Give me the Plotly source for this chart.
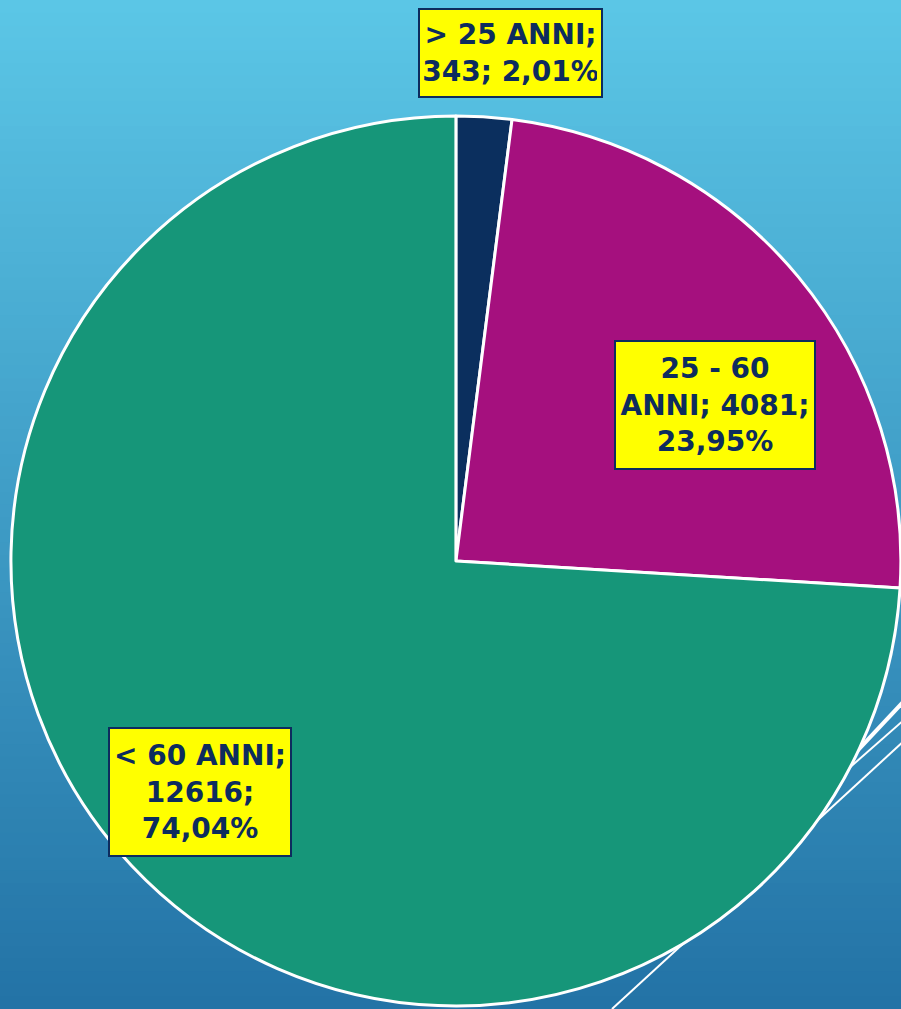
import textwrap
import plotly.graph_objects as go

labels = ["> 25 ANNI", "25 - 60 ANNI", "< 60 ANNI"]
values = [343, 4081, 12616]
colors = ["#0B2F5E", "#A5107E", "#169679"]
label_pos = [(0.567, 0.947), (0.794, 0.599), (0.222, 0.215)]
label_box = [(173, 78), (190, 118), (172, 118)]

total = sum(values)


def pct_text(v):
    return f"{v / total * 100:.2f}".replace(".", ",") + "%"


fig = go.Figure(go.Pie(
    labels=labels,
    values=values,
    sort=False,
    direction="clockwise",
    rotation=0,
    marker=dict(colors=colors, line=dict(color="white", width=3)),
    textinfo="none",
    hoverinfo="label+value+percent",
    showlegend=False,
    domain=dict(x=[0.012, 1.0], y=[0.003, 0.885]),
))

# background gradient, light blue at top to darker blue at bottom
top = (91, 198, 230)
bottom = (35, 115, 166)
bands = 80
shapes = []
for i in range(bands):
    t = i / (bands - 1)
    c = tuple(round(top[k] + (bottom[k] - top[k]) * t) for k in range(3))
    shapes.append(dict(
        type="rect", xref="paper", yref="paper", layer="below",
        x0=0, x1=1, y1=1 - i / bands, y0=1 - (i + 1) / bands - 0.001,
        fillcolor=f"rgb{c}", line=dict(width=0),
    ))

# decorative white lines at the lower right
W, H = 901, 1009
for (x0, y0, x1, y1, w) in [(612, 1009, 905, 740, 2), (790, 820, 905, 719, 2),
                            (830, 780, 905, 700, 4)]:
    shapes.append(dict(
        type="line", xref="paper", yref="paper", layer="below",
        x0=x0 / W, y0=1 - y0 / H, x1=x1 / W, y1=1 - y1 / H,
        line=dict(color="white", width=w),
    ))

annotations = []
for lab, val, (ax, ay), (bw, bh) in zip(labels, values, label_pos, label_box):
    txt = f"{lab}; {val}; {pct_text(val)}"
    annotations.append(dict(
        x=ax, y=ay, xref="paper", yref="paper",
        xanchor="center", yanchor="middle",
        width=bw, height=bh,
        text="<br>".join(textwrap.wrap(txt, width=11)),
        showarrow=False,
        font=dict(family="DejaVu Sans", size=28, color="#0D2C5E", weight="bold"),
        bgcolor="#FFFF00",
        bordercolor="#0D2C5E",
        borderwidth=2,
        borderpad=4,
    ))

fig.update_layout(
    width=901,
    height=1009,
    margin=dict(l=0, r=0, t=0, b=0),
    paper_bgcolor="#3FA0CC",
    shapes=shapes,
    annotations=annotations,
)

fig.write_html("out.html", config={"displayModeBar": False},
               post_script="document.body.style.margin='0';")
